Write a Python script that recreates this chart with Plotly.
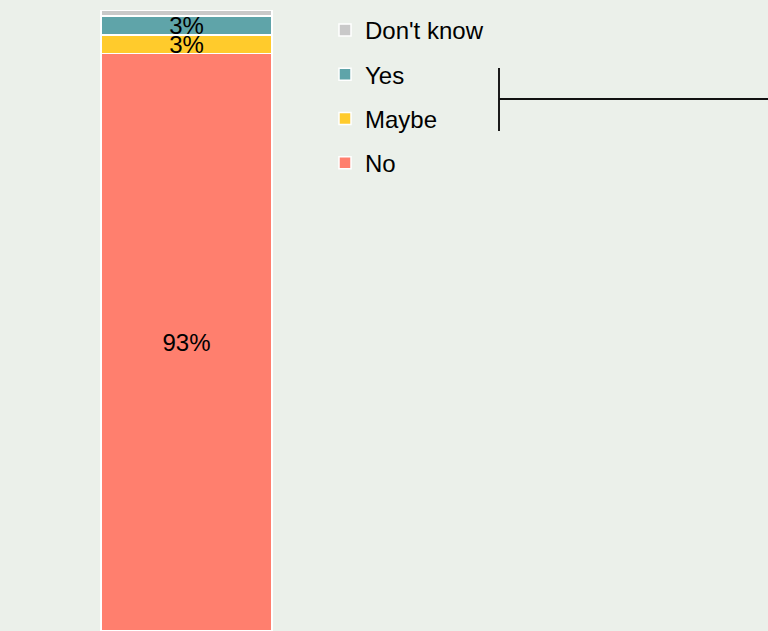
import plotly.graph_objects as go

# Survey answer shares (percent), stacked bottom to top
categories = ["No", "Maybe", "Yes", "Don't know"]
shares = [93, 3, 3, 1]
labels = ["93%", "3%", "3%", ""]
colors = ["#FF7F6E", "#FFCB2C", "#5FA4A9", "#C9C9C9"]

bar_x = [0]

fig = go.Figure()
n = len(categories)
for i, (name, val, lab, col) in enumerate(zip(categories, shares, labels, colors)):
    fig.add_trace(go.Bar(
        x=bar_x, y=[val], name=name, legendgroup=name,
        legendrank=1000 + (n - i),  # top segment listed first
        text=[lab], textposition="inside", textangle=0,
        insidetextanchor="middle",
        textfont=dict(color="black", size=24),
        marker=dict(color=col, line=dict(color="white", width=1.5)),
        width=1, hoverinfo="skip",
    ))

W, H = 768, 631
px_per_unit = 171.0
x_left = -0.5 - 101 / px_per_unit
x_right = x_left + W / px_per_unit

bg = "#EBF0EA"
fig.update_layout(
    width=W, height=H,
    barmode="stack",
    paper_bgcolor=bg, plot_bgcolor=bg,
    margin=dict(l=0, r=0, t=10, b=0),
    font=dict(family="Liberation Sans, Arial, sans-serif", size=24, color="black"),
    uniformtext=dict(minsize=24, mode="show"),
    xaxis=dict(range=[x_left, x_right], visible=False, fixedrange=True),
    yaxis=dict(range=[0, 100], visible=False, fixedrange=True),
    showlegend=True,
    legend=dict(
        x=325 / W, xanchor="left", y=1.0 + 2 / 621, yanchor="top",
        traceorder="grouped", tracegroupgap=10,
        bgcolor="rgba(0,0,0,0)", borderwidth=0,
        font=dict(size=24),
    ),
    shapes=[
        dict(type="line", xref="paper", yref="paper",
             x0=499 / W, x1=499 / W, y0=1 - (68 - 10) / 621, y1=1 - (131 - 10) / 621,
             line=dict(color="#1a1a1a", width=2)),
        dict(type="line", xref="paper", yref="paper",
             x0=499 / W, x1=1.0, y0=1 - (99 - 10) / 621, y1=1 - (99 - 10) / 621,
             line=dict(color="#111111", width=2)),
    ],
)

fig.write_html("out.html")
